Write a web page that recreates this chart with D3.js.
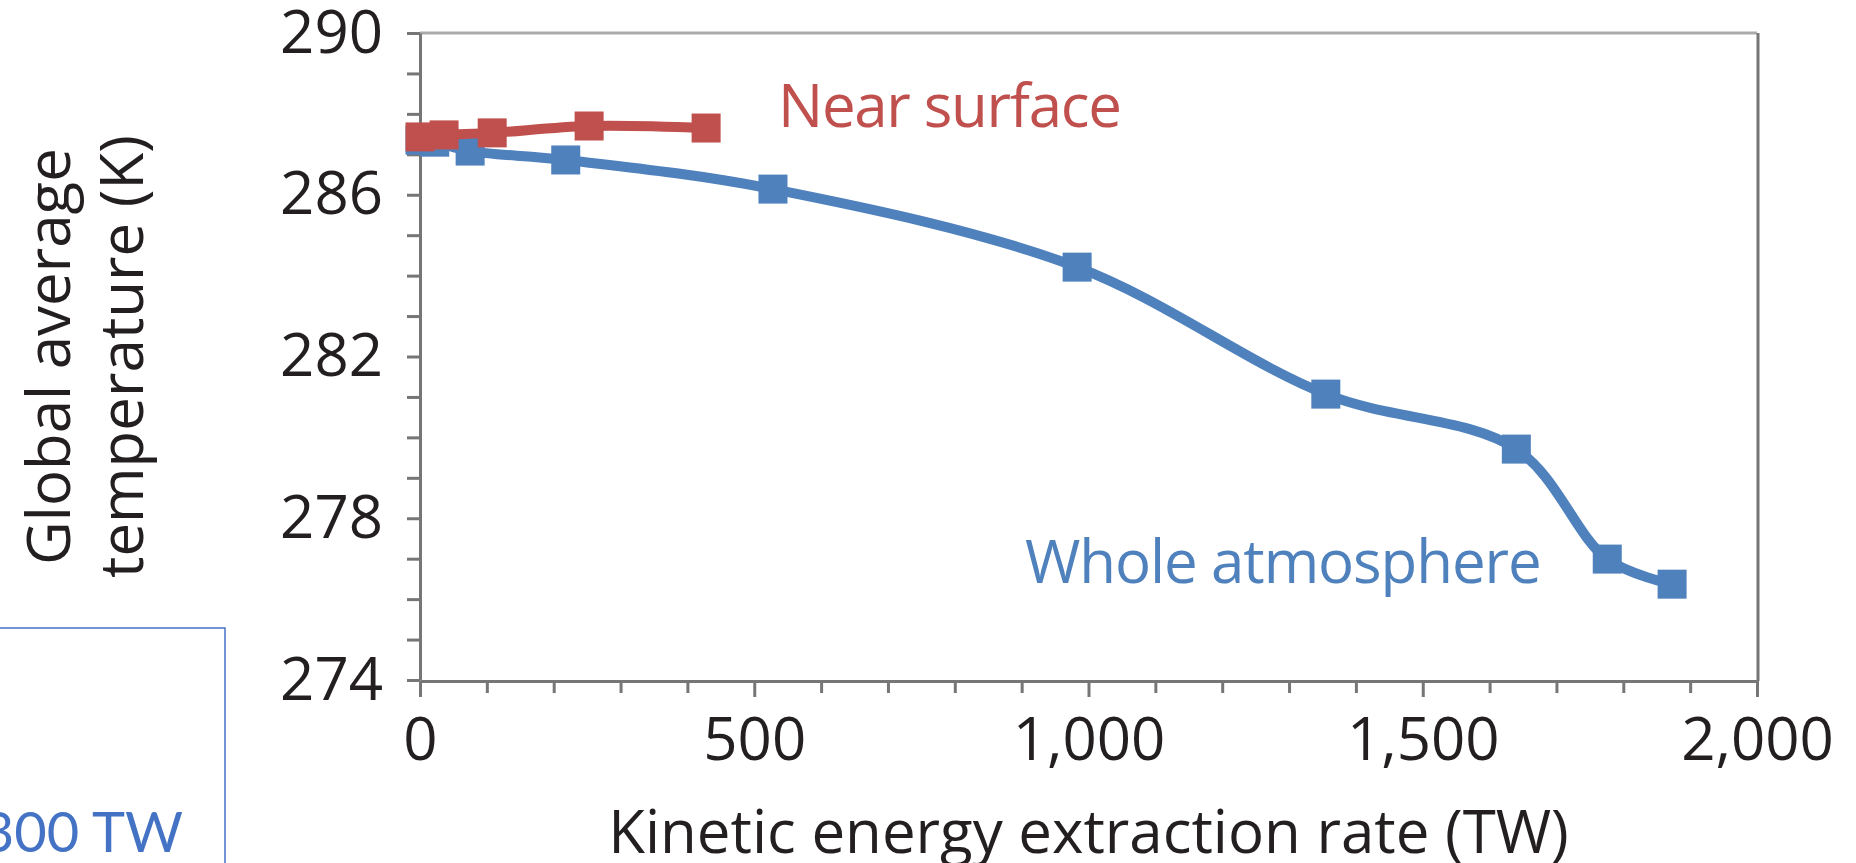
<!DOCTYPE html>
<html>
<head>
<meta charset="utf-8">
<script src="https://cdn.jsdelivr.net/npm/d3@7"></script>
<style>
  html, body { margin: 0; padding: 0; background: #fff; overflow: hidden; }
  svg { display: block; font-family: "Open Sans", sans-serif; }
</style>
</head>
<body>
<svg id="chart"></svg>
<script>
// Whole atmosphere series (TW, K)
const wholeX = [0, 22, 75, 218, 528, 983, 1355, 1640, 1776, 1873];
const wholeT = [287.35, 287.3, 287.08, 286.86, 286.14, 284.21, 281.07, 279.71, 276.99, 276.37];

// Near surface series (TW, K)
const nearX = [0, 36, 108, 253, 428];
const nearT = [287.43, 287.48, 287.53, 287.7, 287.65];

// Axis ticks and labels
const xTicks = [0, 500, 1000, 1500, 2000];
const yTicks = [274, 278, 282, 286, 290];
const xTitle = "Kinetic energy extraction rate (TW)";
const yTitleLines = ["Global average", "temperature (K)"];
const seriesNames = ["Whole atmosphere", "Near surface"];
const boxText = "300 TW";

const config = {
  width: 1856,
  height: 863,
  left: 420,
  right: 1757,
  top: 33,
  bottom: 680,
  blue: "#4f81bd",
  red: "#c0504d",
  axis: "#767676",
  text: "#231f20",
  fontSize: 60
};

const svg = d3.select("#chart")
    .attr("width", config.width)
    .attr("height", config.height);

const x = d3.scaleLinear().domain([0, 2000]).range([config.left, config.right]);
const y = d3.scaleLinear().domain([274, 290]).range([config.bottom, config.top]);

// Frame: light top line, darker right line
svg.append("line")
    .attr("x1", x(0)).attr("x2", x(2000))
    .attr("y1", y(290)).attr("y2", y(290))
    .attr("stroke", "#aaaaaa").attr("stroke-width", 3);
svg.append("line")
    .attr("x1", x(2000) + 1).attr("x2", x(2000) + 1)
    .attr("y1", y(290)).attr("y2", y(274) + 1)
    .attr("stroke", config.axis).attr("stroke-width", 3);

// X axis
const xAxis = svg.append("g")
    .attr("transform", `translate(0,${y(274) + 1})`)
    .call(d3.axisBottom(x)
        .tickValues(d3.range(0, 2001, 100))
        .tickSize(12)
        .tickSizeOuter(0)
        .tickPadding(24)
        .tickFormat(d => xTicks.includes(d) ? d3.format(",")(d) : ""));

// Y axis
const yAxis = svg.append("g")
    .attr("transform", `translate(${x(0)},0)`)
    .call(d3.axisLeft(y)
        .tickValues(d3.range(274, 291, 1))
        .tickSize(13)
        .tickSizeOuter(0)
        .tickPadding(24)
        .tickFormat(d => yTicks.includes(d) ? d : ""));

[xAxis, yAxis].forEach(g => {
  g.select(".domain").attr("stroke", config.axis).attr("stroke-width", 3);
  g.selectAll(".tick line").attr("stroke", config.axis).attr("stroke-width", 3);
  g.selectAll(".tick text")
      .attr("fill", config.text)
      .style("font-size", config.fontSize + "px")
      .style("font-family", "'Open Sans', sans-serif");
});
// labelled x ticks are a bit longer
xAxis.selectAll(".tick line").filter(d => xTicks.includes(d)).attr("y2", 16);

// Axis titles
svg.append("text")
    .attr("x", (x(0) + x(2000)) / 2)
    .attr("y", 853)
    .attr("text-anchor", "middle")
    .attr("fill", config.text)
    .style("font-size", config.fontSize + "px")
    .text(xTitle);

const yTitle = svg.append("text")
    .attr("transform", `translate(0,${(y(274) + y(290)) / 2}) rotate(-90)`)
    .attr("text-anchor", "middle")
    .attr("fill", config.text)
    .style("font-size", config.fontSize + "px");
yTitle.selectAll("tspan")
    .data(yTitleLines)
    .enter()
    .append("tspan")
    .attr("x", 0)
    .attr("y", (d, i) => 70 + i * 73)
    .text(d => d);

// Series lines
const line = d3.line()
    .x(d => x(d[0]))
    .y(d => y(d[1]))
    .curve(d3.curveCatmullRom.alpha(0.5));

const series = [
  { name: seriesNames[0], color: config.blue, pts: d3.zip(wholeX, wholeT) },
  { name: seriesNames[1], color: config.red, pts: d3.zip(nearX, nearT) }
];

const marker = 29;
series.forEach(s => {
  svg.append("path")
      .attr("d", line(s.pts))
      .attr("fill", "none")
      .attr("stroke", s.color)
      .attr("stroke-width", 10);
  svg.selectAll(null)
      .data(s.pts)
      .enter()
      .append("rect")
      .attr("x", d => x(d[0]) - marker / 2)
      .attr("y", d => y(d[1]) - marker / 2)
      .attr("width", marker)
      .attr("height", marker)
      .attr("fill", s.color);
});

// Series labels (the source font is a little narrower)
svg.append("text")
    .attr("x", 778).attr("y", 127)
    .attr("fill", config.red)
    .style("font-size", config.fontSize + "px")
    .style("letter-spacing", "-1.3px")
    .text(seriesNames[1]);
svg.append("text")
    .attr("x", 1025).attr("y", 583)
    .attr("fill", config.blue)
    .style("font-size", config.fontSize + "px")
    .style("letter-spacing", "-1.1px")
    .text(seriesNames[0]);

// Blue box at lower left
svg.append("rect")
    .attr("x", -2).attr("y", 628)
    .attr("width", 227).attr("height", 260)
    .attr("fill", "none")
    .attr("stroke", "#4472c4")
    .attr("stroke-width", 1.5);
svg.append("text")
    .attr("x", 183).attr("y", 852)
    .attr("text-anchor", "end")
    .attr("fill", "#4472c4")
    .style("font-size", "56px")
    .style("font-family", "Lato, sans-serif")
    .text(boxText);
</script>
</body>
</html>
